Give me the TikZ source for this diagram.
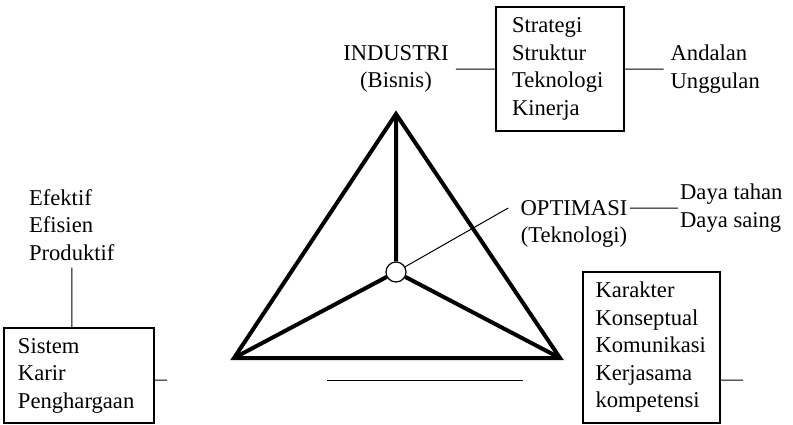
\documentclass[tikz,border=0pt]{standalone}
\usepackage{fontspec}
\setmainfont{Liberation Serif}
\usetikzlibrary{positioning}
\tikzset{
every node/.style={font=\fontsize{11.3}{13.75}\selectfont}, % Times-like text everywhere
frame/.style={line width=2pt, line join=miter}, % the heavy triangle and its spokes
link/.style={line width=0.5pt}, % thin connectors
listbox/.style={draw, line width=0.6pt, align=left}, % framed lists
textlist/.style={align=left}, % unframed lists
hub/.style={circle, draw, line width=0.6pt, inner sep=0pt, minimum size=10pt, fill=white}, % small circle in the middle
}
\begin{document}
\begin{tikzpicture}[x=0.5pt, y=-0.5pt]
            \useasboundingbox (0,0) rectangle (793,424);
            \coordinate (apex) at (396,114);
            \coordinate (lft) at (234,358);
            \coordinate (rgt) at (560,358);
            \node[hub] (hub) at (396,272) {};
            \draw[frame] (apex) -- (lft) -- (rgt) -- cycle;
            \draw[frame] (apex) -- (hub) (lft) -- (hub) (rgt) -- (hub);
            \coordinate (baseL) at (327,380);
            \coordinate (baseR) at (523,380);
            \draw[link] (baseL) -- (baseR);

            \node[align=center] (ind) at (396,69) {INDUSTRI\\(Bisnis)};
            \node[listbox, text width=48pt, inner xsep=8pt, minimum height=62pt] (strat) at (560,69) {Strategi\\Struktur\\Teknologi\\Kinerja};
            \node[textlist, right=19.5pt of strat] (andal) {Andalan\\Unggulan};

            \node[inner xsep=1pt] (optim) at (574,208) {OPTIMASI};
            \node[anchor=base] (tekno) at ([yshift=-13.75pt]optim.base) {(Teknologi)};
            \node[textlist, inner xsep=1pt, right=24pt of optim] (daya) {Daya tahan\\Daya saing};

            \node[textlist, anchor=west] (efek) at (22,225) {Efektif\\Efisien\\Produktif};
            \node[listbox, text width=61pt, inner xsep=7pt, minimum height=47.5pt] (sistem) at (79,375.5) {Sistem\\Karir\\Penghargaan};
            \node[listbox, text width=56pt, inner xsep=6.25pt, minimum height=75.5pt] (karakter) at (651.5,347.5) {Karakter\\Konseptual\\Komunikasi\\Kerjasama\\kompetensi};
            \coordinate (sistemEnd) at (167,380);
            \coordinate (karakterEnd) at (743,380);

            \draw[link]
                (ind) -- (strat)
                (strat) -- (andal)
                (hub) -- ([xshift=-5pt]optim.west)
                (optim.east) -- (daya.west)
                (efek.south) -- (efek.south |- sistem.north)
                (sistem.east |- sistemEnd) -- (sistemEnd)
                (karakter.east |- karakterEnd) -- (karakterEnd)
                ;
\end{tikzpicture}
\end{document}
